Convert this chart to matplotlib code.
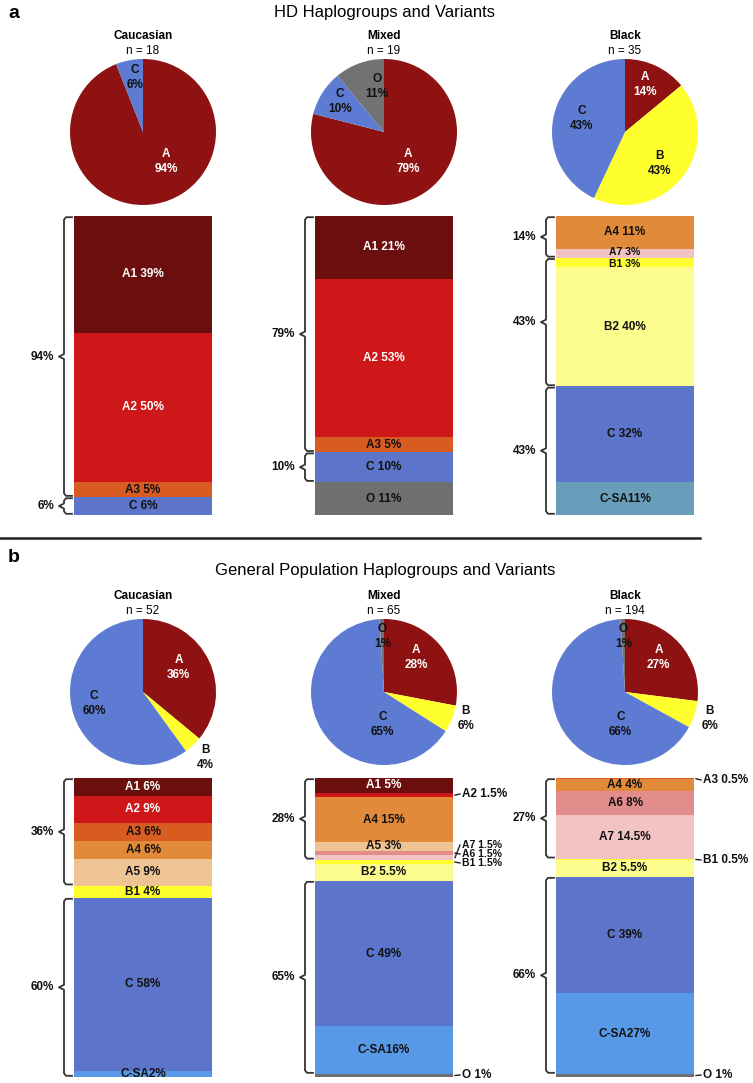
import numpy as np
import matplotlib.pyplot as plt

plt.rcParams['font.family'] = ['Liberation Sans', 'DejaVu Sans']

W, H = 753, 1083

# ---- data ----
groups = ["Caucasian", "Mixed", "Black"]

hd_n = [18, 19, 35]
hd_pie_names = [["A", "C"], ["A", "C", "O"], ["A", "B", "C"]]
hd_pie_vals = [[94, 6], [79, 10, 11], [14, 43, 43]]

gp_n = [52, 65, 194]
gp_pie_names = [["A", "B", "C"], ["A", "B", "C", "O"], ["A", "B", "C", "O"]]
gp_pie_vals = [[36, 4, 60], [28, 6, 65, 1], [27, 6, 66, 1]]

hd_bar_names = [["A1", "A2", "A3", "C"],
                ["A1", "A2", "A3", "C", "O"],
                ["A4", "A7", "B1", "B2", "C", "C-SA"]]
hd_bar_vals = [[39, 50, 5, 6],
               [21, 53, 5, 10, 11],
               [11, 3, 3, 40, 32, 11]]

gp_bar_names = [["A1", "A2", "A3", "A4", "A5", "B1", "C", "C-SA"],
                ["A1", "A2", "A4", "A5", "A6", "A7", "B1", "B2", "C", "C-SA", "O"],
                ["A3", "A4", "A6", "A7", "B1", "B2", "C", "C-SA", "O"]]
gp_bar_vals = [[6, 9, 6, 6, 9, 4, 58, 2],
               [5, 1.5, 15, 3, 1.5, 1.5, 1.5, 5.5, 49, 16, 1],
               [0.5, 4, 8, 14.5, 0.5, 5.5, 39, 27, 1]]

# brackets: (label, first segment, last segment)
hd_brackets = [[("94%", 0, 2), ("6%", 3, 3)],
               [("79%", 0, 2), ("10%", 3, 3)],
               [("14%", 0, 1), ("43%", 2, 3), ("43%", 4, 5)]]
gp_brackets = [[("36%", 0, 4), ("60%", 6, 7)],
               [("28%", 0, 5), ("65%", 8, 9)],
               [("27%", 0, 3), ("66%", 6, 7)]]

# ---- style / layout ----
pie_colors = {"A": "#8e1212", "B": "#ffff2e", "C": "#5d7bd2", "O": "#727272"}
bar_colors = {"A1": "#6a0e0e", "A2": "#cd1719", "A3": "#d85c22", "A4": "#e18b3a",
              "A5": "#efc495", "A6": "#e38c8c", "A7": "#f1c3c3", "B1": "#ffff30",
              "B2": "#fbfb8e", "C": "#5c74c9", "C-SA": "#5799e6", "O": "#6f6f6f"}
hd_csa_color = "#689eba"
white_txt = {"A", "A1", "A2"}

COL_X = [0, 241, 482]
R = 73
BAR_X0, BAR_W, BAR_H = 74, 138, 299

# label positions inside pies (radius units)
hd_pie_lab = [[(0.32, -0.40), (-0.11, 0.75)],
              [(0.33, -0.40), (-0.60, 0.42), (-0.10, 0.62)],
              [(0.27, 0.65), (0.47, -0.43), (-0.59, 0.19)]]
gp_pie_lab = [[(0.49, 0.34), (0.85, -0.90), (-0.67, -0.16)],
              [(0.44, 0.47), (1.12, -0.36), (-0.02, -0.44), (-0.02, 0.76)],
              [(0.46, 0.47), (1.16, -0.36), (-0.06, -0.44), (-0.02, 0.76)]]

# labels placed right of the bar (pixel y)
gp_outside = [{}, {"A2": 794, "A7": 845, "A6": 854, "B1": 863, "O": 1075},
              {"A3": 780, "B1": 860, "O": 1075}]
# small in-bar labels nudged apart (pixels)
hd_nudge = [{}, {}, {"A7": -1.5, "B1": 1.5}]

fig = plt.figure(figsize=(W / 100, H / 100), dpi=100)


def px_axes(x0, y0, w, h):
    return fig.add_axes([x0 / W, 1 - (y0 + h) / H, w / W, h / H])


def ftext(x, y, s, **kw):
    fig.text(x / W, 1 - y / H, s, **kw)


def draw_pie(cx, cy, names, vals, labpos, title, n):
    ax = px_axes(cx - R, cy - R, 2 * R, 2 * R)
    ax.pie(vals, colors=[pie_colors[k] for k in names], startangle=90,
           counterclock=False, radius=1, wedgeprops=dict(linewidth=0))
    ax.set_xlim(-1, 1)
    ax.set_ylim(-1, 1)
    for name, v, (lx, ly) in zip(names, vals, labpos):
        ax.text(lx, ly, f"{name}\n{v}%", ha='center', va='center', fontsize=8.5,
                fontweight='bold', linespacing=1.35,
                color='white' if name in white_txt else '#111111')
    ftext(cx, cy - R - 23, title, ha='center', va='center', fontsize=8.5, fontweight='bold')
    ftext(cx, cy - R - 8, f"n = {n}", ha='center', va='center', fontsize=8.5)


def draw_bar(gx, top, names, vals, brackets, csa_color, outside, nudge):
    ax = px_axes(gx, top, 241, BAR_H)
    total = sum(vals)
    ax.set_xlim(0, 241)
    ax.set_ylim(total, 0)
    ax.axis('off')
    ppu = BAR_H / total
    cum = np.concatenate([[0], np.cumsum(vals)[:-1]])
    cols = [csa_color if k == "C-SA" else bar_colors[k] for k in names]
    ax.bar(BAR_X0 + BAR_W / 2, vals, bottom=cum, width=BAR_W, color=cols, linewidth=0)
    xr = BAR_X0 + BAR_W
    for name, v, b in zip(names, vals, cum):
        mid = b + v / 2
        sep = "" if name == "C-SA" else " "
        txt = f"{name}{sep}{v:g}%"
        if name in outside:
            ly = (outside[name] - top) / ppu
            ax.plot([xr + 2, xr + 7], [mid, ly], color='#222222', lw=1, clip_on=False)
            fs = 7.5 if v == 1.5 and name != "A2" else 8.5
            ax.text(xr + 9, ly, txt, ha='left', va='center', fontsize=fs,
                    fontweight='bold', color='#111111')
        else:
            small = name in nudge
            ax.text(BAR_X0 + BAR_W / 2, mid + nudge.get(name, 0) / ppu, txt,
                    ha='center', va='center', fontsize=7.5 if small else 8.5,
                    fontweight='bold', color='white' if name in white_txt else '#111111')
    xl, xb = 64, 72
    d = 2.5 / ppu
    for lab, i0, i1 in brackets:
        t = cum[i0] + 1.2 / ppu
        b = cum[i1] + vals[i1] - 1.2 / ppu
        m = (t + b) / 2
        bx = [xb, xl + 2, xl, xl, xl - 5, xl, xl, xl + 2, xb]
        by = [t, t, t + d, m - d, m, m + d, b - d, b, b]
        ax.plot(bx, by, color='#333333', lw=1.3, clip_on=False)
        ax.text(xl - 10, m, lab, ha='right', va='center', fontsize=8.5,
                fontweight='bold', color='#111111')


# ---- panel a ----
ftext(8, 13, "a", ha='left', va='center', fontsize=14, fontweight='bold')
ftext(385, 13, "HD Haplogroups and Variants", ha='center', va='center', fontsize=12)
for i in range(3):
    draw_pie(COL_X[i] + 143, 132, hd_pie_names[i], hd_pie_vals[i], hd_pie_lab[i],
             groups[i], hd_n[i])
    draw_bar(COL_X[i], 216, hd_bar_names[i], hd_bar_vals[i], hd_brackets[i],
             hd_csa_color, {}, hd_nudge[i])

# separator
sep_ax = px_axes(0, 530, W, 16)
sep_ax.axis('off')
sep_ax.set_xlim(0, W)
sep_ax.set_ylim(16, 0)
sep_ax.plot([0, 700], [8, 8], color='#222222', lw=1.8)

# ---- panel b ----
ftext(8, 557, "b", ha='left', va='center', fontsize=14, fontweight='bold')
ftext(385, 570, "General Population Haplogroups and Variants", ha='center', va='center',
      fontsize=12)
for i in range(3):
    draw_pie(COL_X[i] + 143, 692, gp_pie_names[i], gp_pie_vals[i], gp_pie_lab[i],
             groups[i], gp_n[i])
    draw_bar(COL_X[i], 778, gp_bar_names[i], gp_bar_vals[i], gp_brackets[i],
             bar_colors["C-SA"], gp_outside[i], {})

fig.savefig("out.png", dpi=100)
